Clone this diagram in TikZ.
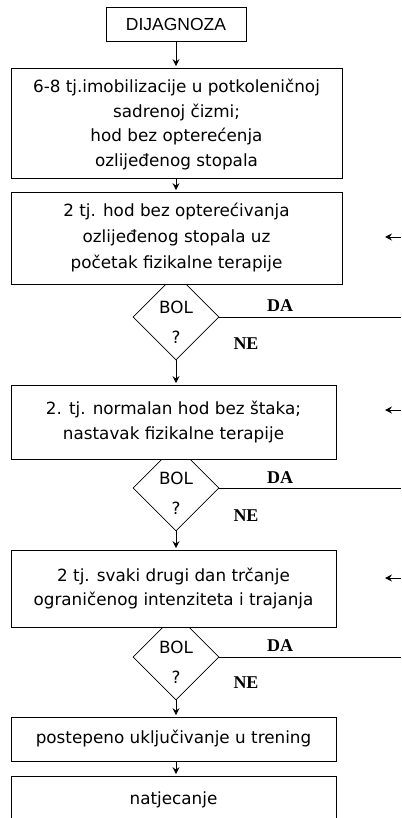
\documentclass[tikz,border=0pt]{standalone}
\usepackage{fontspec}
\setmainfont{DejaVu Sans}
\newfontfamily\dijfont{Liberation Sans}
\newfontfamily\danefont{Liberation Serif}
\usetikzlibrary{shapes.geometric,arrows.meta}

\begin{document}
\begin{tikzpicture}[
        x=1pt, y=-1pt,
        line width=0.8pt,
        korak/.style={draw, fill=white, rectangle, inner sep=0pt, align=center,
            minimum width=331pt, font=\fontsize{16.8}{24.5}\selectfont},
        uzi/.style={korak, minimum width=325pt},
        pitanje/.style={draw, diamond, aspect=1, inner sep=0pt, minimum size=86pt,
            label={[yshift=-5pt, align=center, font=\fontsize{16.8}{30}\selectfont]center:BOL\\?}},
        odgovor/.style={font=\danefont\bfseries\fontsize{18}{20}\selectfont},
        strelica/.style={-{Stealth[length=7pt,width=7pt,inset=2.5pt]}, shorten >=1.5pt},
        ]
    \useasboundingbox (0,0) rectangle (401,818);
    \clip (0,0) rectangle (401,818);

    \node (bol1) [pitanje] at (176,317) {};
    \node (bol2) [pitanje] at (176,488) {};
    \node (bol3) [pitanje] at (176,657) {};

    \node (dijagnoza) [draw, fill=white, minimum width=140pt, minimum height=34pt,
        font=\dijfont\fontsize{17.5}{20}\selectfont] at (176,24) {DIJAGNOZA};
    \node (imob) [korak, minimum height=110pt, text depth=-4pt] at (176.5,123)
        {6-8 tj.imobilizacije u potkoleničnoj\\sadrenoj čizmi;\\hod bez opterećenja\\ozlijeđenog stopala};
    \node (hod) [korak, minimum height=92pt, font=\fontsize{16.8}{26}\selectfont] at (176.5,238)
        {2 tj. hod bez opterećivanja\\ozlijeđenog stopala uz\\početak fizikalne terapije};
    \node (normal) [uzi, minimum height=74pt] at (173.5,422)
        {2. tj. normalan hod bez štaka;\\nastavak fizikalne terapije};
    \node (trcanje) [uzi, minimum height=77pt] at (173.5,588.5)
        {2 tj. svaki drugi dan trčanje\\ograničenog intenziteta i trajanja};
    \node (trening) [uzi, minimum height=44pt] at (173.5,739)
        {postepeno uključivanje u trening};
    \node (natjecanje) [uzi, minimum height=48pt] at (173.5,800) {natjecanje};

    \draw[strelica] (dijagnoza.south) -- (dijagnoza.south |- imob.north);
    \draw[strelica] (dijagnoza.south |- imob.south) -- (dijagnoza.south |- hod.north);
    \draw[strelica] (bol1.south) -- (bol1.south |- normal.north);
    \draw[strelica] (bol2.south) -- (bol2.south |- trcanje.north);
    \draw[strelica] (bol3.south) -- (bol3.south |- trening.north);
    \draw[strelica] (bol3.south |- trening.south) -- (bol3.south |- natjecanje.north);

    \coordinate (desno1) at (401,317);
    \coordinate (desno2) at (401,488);
    \coordinate (desno3) at (401,657);
    \draw (bol1.east) -- (desno1);
    \draw (bol2.east) -- (desno2);
    \draw (bol3.east) -- (desno3);

    \node (da1) [odgovor] at (280,306) {DA};
    \node (ne1) [odgovor] at (246,344) {NE};
    \node (da2) [odgovor] at (280,478) {DA};
    \node (ne2) [odgovor] at (246,516) {NE};
    \node (da3) [odgovor] at (280,646) {DA};
    \node (ne3) [odgovor] at (246,683) {NE};

    \coordinate (povratak1) at (401,237);
    \coordinate (vrh1) at (385,237);
    \coordinate (povratak2) at (401,410);
    \coordinate (vrh2) at (385,410);
    \coordinate (povratak3) at (401,578);
    \coordinate (vrh3) at (385,578);
    \draw[strelica, shorten >=0pt] (povratak1) -- (vrh1);
    \draw[strelica, shorten >=0pt] (povratak2) -- (vrh2);
    \draw[strelica, shorten >=0pt] (povratak3) -- (vrh3);
\end{tikzpicture}
\end{document}
